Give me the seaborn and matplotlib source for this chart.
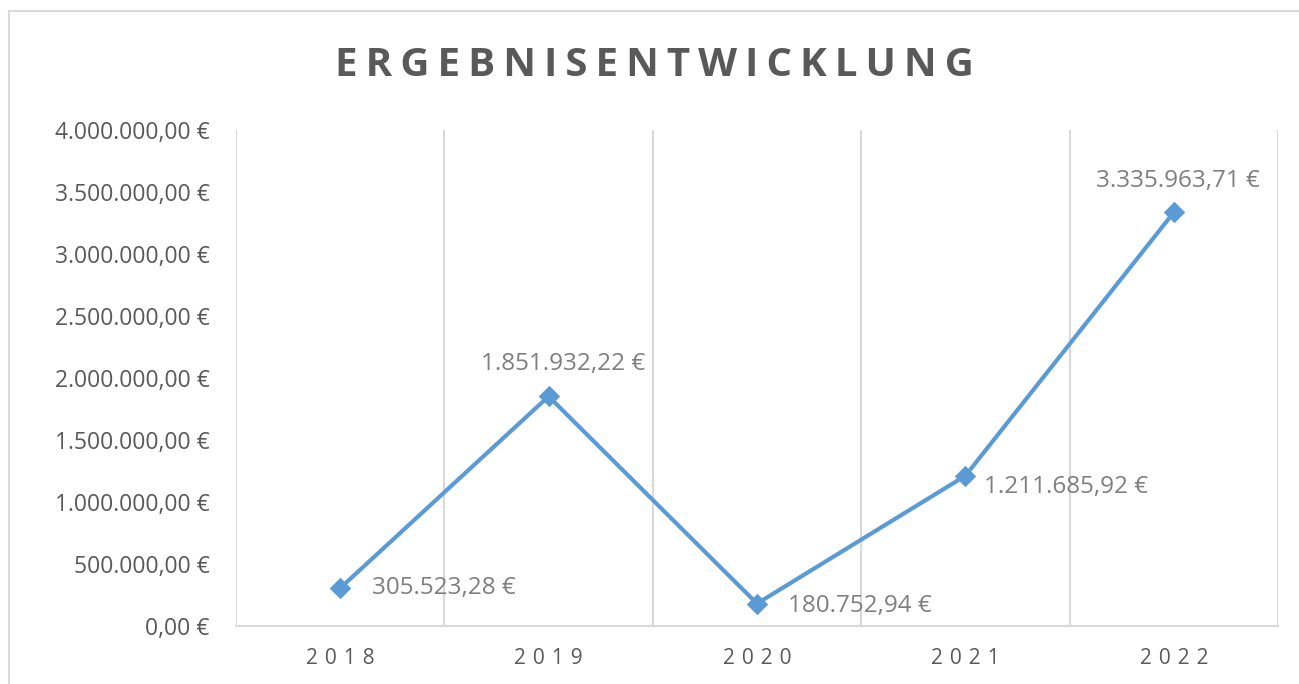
import numpy as np
import pandas as pd
import matplotlib
matplotlib.use("Agg")
import matplotlib.pyplot as plt
import seaborn as sns
from matplotlib.patches import Rectangle
from matplotlib.ticker import FuncFormatter, MultipleLocator

# Data
years = ["2018", "2019", "2020", "2021", "2022"]
results = [305523.28, 1851932.22, 180752.94, 1211685.92, 3335963.71]

# label placement (pixels from the marker), like excel put them
label_offsets = [(32, 0), (15, 32), (31, -2), (19, -11), (4, 31)]
label_ha = ["left", "center", "left", "left", "center"]


def euro(v, _=None):
    s = f"{v:,.2f}"
    s = s.replace(",", "X").replace(".", ",").replace("X", ".")
    return s + " €"


df = pd.DataFrame({"idx": np.arange(len(years)), "Jahr": years, "Ergebnis": results})

sns.set_theme(style="white")
plt.rcParams["font.family"] = ["Open Sans", "DejaVu Sans"]

fig = plt.figure(figsize=(12.99, 6.84), dpi=100)
ax = fig.add_axes([236 / 1299, 1 - 626 / 684, (1278 - 236) / 1299, (626 - 130) / 684])

line_color = "#5B9BD5"
sns.lineplot(data=df, x="idx", y="Ergebnis", ax=ax, color=line_color, linewidth=3,
             marker="D", markersize=10.5, markeredgecolor=line_color, zorder=3)

ax.set_xlim(-0.5, len(years) - 0.5)
ax.set_ylim(0, 4000000)
ax.yaxis.set_major_locator(MultipleLocator(500000))
ax.yaxis.set_major_formatter(FuncFormatter(euro))
ax.set_xticks(df["idx"])
ax.set_xticklabels(["\u2004".join(y) for y in years])
ax.set_xticks(np.arange(-0.5, len(years)), minor=True)
ax.grid(False)
ax.grid(True, which="minor", axis="x", color="#D9D9D9", linewidth=1.5)
ax.set_xlabel("")
ax.set_ylabel("")

for s in ["top", "right", "left"]:
    ax.spines[s].set_visible(False)
ax.spines["bottom"].set_color("#D9D9D9")
ax.spines["bottom"].set_linewidth(1.5)

ax.tick_params(axis="y", which="both", length=0, pad=19, labelsize=16.5, labelcolor="#595959")
ax.tick_params(axis="x", which="both", length=0, pad=16, labelsize=15, labelcolor="#595959")

for i, v in enumerate(results):
    ax.annotate(euro(v), (i, v), xytext=label_offsets[i], textcoords="offset pixels",
                ha=label_ha[i], va="center", fontsize=17.5, color="#7F7F7F")

fig.text(0.504, 1 - 65 / 684, "\u2009".join("ERGEBNISENTWICKLUNG"), ha="center", va="center",
         fontsize=29, fontweight="bold", color="#595959")

# chart border like the spreadsheet frame
fig.patches.append(Rectangle((9 / 1299, -0.1), 1.2, 1 - 11 / 684 + 0.1, transform=fig.transFigure,
                             fill=False, edgecolor="#D9D9D9", linewidth=1.5))

fig.savefig("out.png", dpi=100)
